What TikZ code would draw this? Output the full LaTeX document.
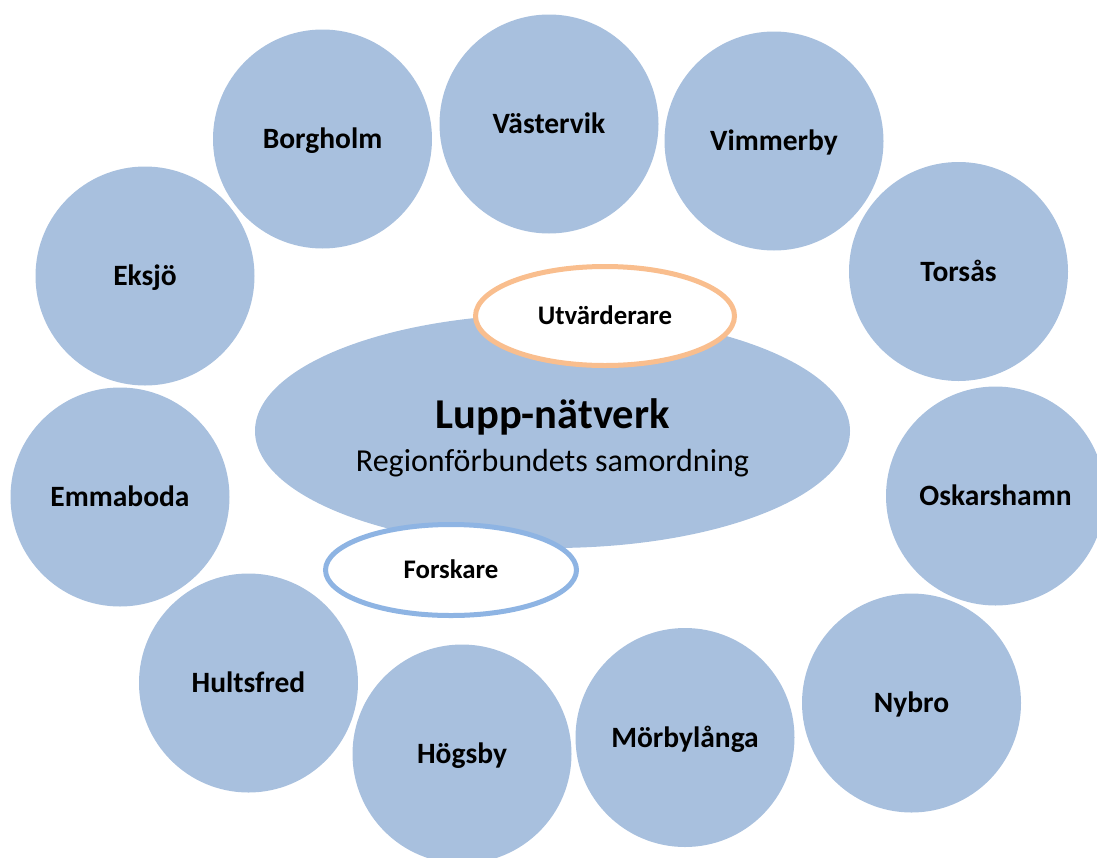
\documentclass[tikz,border=0pt]{standalone}
\usepackage{fontspec}
\setmainfont{Carlito}
\usetikzlibrary{shapes.geometric}
\definecolor{cityfill}{HTML}{A8C0DE}
\definecolor{evalline}{HTML}{F9BE8E}
\definecolor{resline}{HTML}{8EB4E3}
\tikzset{
  city/.style={circle, fill=cityfill, draw=none, minimum size=219pt, inner sep=0pt,
    font=\fontsize{29.5}{34}\selectfont\bfseries, text height=19pt, text depth=0pt},
  hub/.style={ellipse, fill=cityfill, draw=none, minimum width=595pt, minimum height=234pt, inner sep=0pt},
  role/.style={ellipse, fill=white, line width=5pt, inner sep=0pt,
    font=\fontsize{26.8}{31}\selectfont\bfseries, text height=17pt, text depth=0pt}
}
\begin{document}
\begin{tikzpicture}[x=1pt,y=-1pt]
\useasboundingbox (0,0) rectangle (1097,857);
% cities
\node[city] (borgholm)   at (322.5,139) {Borgholm};
\node[city] (vastervik)  at (549,124)   {Västervik};
\node[city] (vimmerby)   at (774,141)   {Vimmerby};
\node[city] (torsas)     at (958.5,271.5) {Torsås};
\node[city] (eksjo)      at (145,276)   {Eksjö};
\node[city] (emmaboda)   at (120,497)   {Emmaboda};
\node[city] (oskarshamn) at (995.5,496) {Oskarshamn};
\node[city] (hultsfred)  at (248.5,683) {Hultsfred};
\node[city] (hogsby)     at (462,754)   {Högsby};
\node[city] (morbylanga) at (685,737.5) {Mörbylånga};
\node[city] (nybro)      at (911.5,703) {Nybro};
% hub
\node[hub] (hub) at (552.5,431) {};
\node[anchor=base, font=\fontsize{42.5}{50}\selectfont\bfseries, inner sep=0pt] (title) at (552.5,428) {Lupp-nätverk};
\node[anchor=base, font=\fontsize{32}{38}\selectfont, inner sep=0pt] (subtitle) at (552.5,471) {Regionförbundets samordning};
% roles
\node[role, draw=evalline, minimum width=259pt, minimum height=99pt] (eval) at (605,316) {Utvärderare};
\node[role, draw=resline, minimum width=251pt, minimum height=91pt] (res) at (451,570) {Forskare};
\end{tikzpicture}
\end{document}
